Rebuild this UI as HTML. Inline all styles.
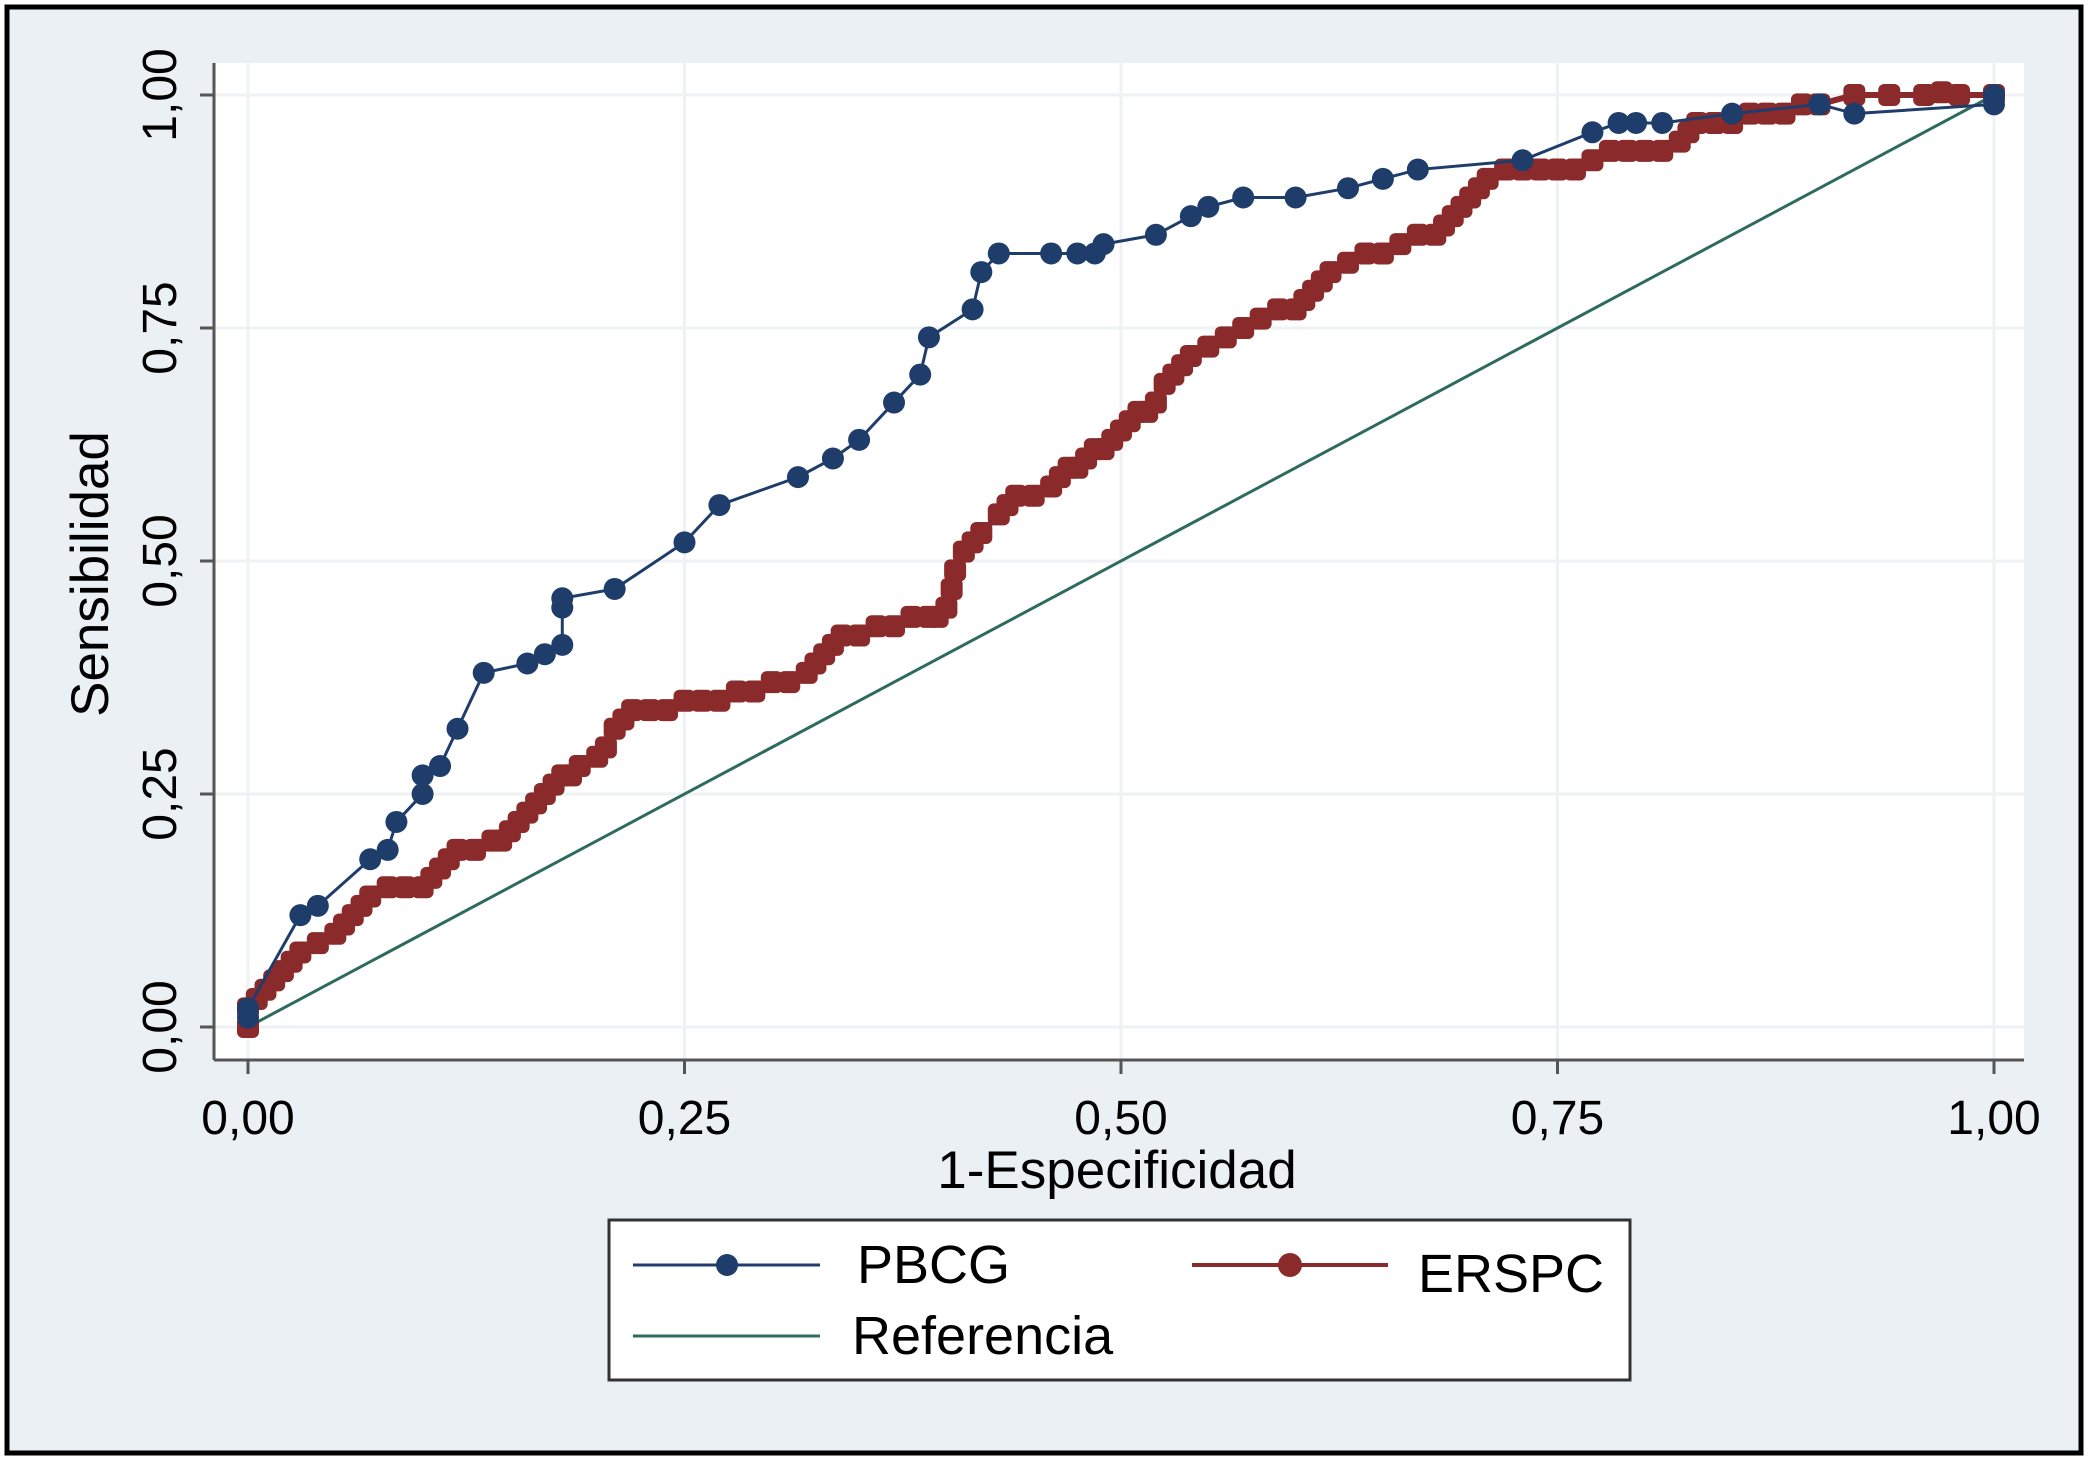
<!DOCTYPE html>
<html><head><meta charset="utf-8"><style>
html,body{margin:0;padding:0;background:#fff}
svg{display:block;font-family:"Liberation Sans",sans-serif}
</style></head><body>
<svg width="2091" height="1460" viewBox="0 0 2091 1460">
<rect x="7" y="7" width="2074" height="1446" fill="#eaf0f3" stroke="#000" stroke-width="5"/>
<rect x="214" y="63" width="1810" height="997" fill="#fff"/>
<g id="grid"></g>
<line x1="214" y1="63" x2="214" y2="1060" stroke="#555" stroke-width="3"/>
<line x1="214" y1="1060" x2="2024" y2="1060" stroke="#555" stroke-width="3"/>
<g id="ticks"></g>
<text x="0" y="0" transform="translate(108,574) rotate(-90)" text-anchor="middle" font-size="53">Sensibilidad</text>
<text x="1117" y="1188" text-anchor="middle" font-size="53">1-Especificidad</text>
<g id="series"></g>
<g>
<rect x="609" y="1220" width="1021" height="160" fill="#fff" stroke="#333" stroke-width="3"/>
<g>
<line x1="633" y1="1265" x2="820" y2="1265" stroke="#1e3d6b" stroke-width="3"/>
<circle cx="727" cy="1265" r="11" fill="#1e3d6b"/>
<text x="857" y="1283" font-size="54">PBCG</text></g>
<g>
<line x1="1192" y1="1265" x2="1388" y2="1265" stroke="#8b2a2a" stroke-width="4"/>
<circle cx="1290" cy="1265" r="12" fill="#8b2a2a"/>
<text x="1418" y="1292" font-size="54">ERSPC</text></g>
<g>
<line x1="633" y1="1336" x2="820" y2="1336" stroke="#2e6b5e" stroke-width="3"/>
<text x="852" y="1354" font-size="54">Referencia</text></g>
</g>
</svg>
<script>
const tickValues=[0,0.25,0.5,0.75,1];
const tickLabels=["0,00","0,25","0,50","0,75","1,00"];
const pbcgX=[0,0,0.03,0.04,0.07,0.08,0.085,0.1,0.1,0.11,0.12,0.135,0.16,0.17,0.18,0.18,0.18,0.21,0.25,0.27,0.315,0.335,0.35,0.37,0.385,0.39,0.415,0.42,0.43,0.46,0.475,0.485,0.49,0.52,0.54,0.55,0.57,0.6,0.63,0.65,0.67,0.73,0.77,0.785,0.795,0.81,0.85,0.9,0.92,1,1];
const pbcgY=[0.01,0.02,0.12,0.13,0.18,0.19,0.22,0.25,0.27,0.28,0.32,0.38,0.39,0.40,0.41,0.45,0.46,0.47,0.52,0.56,0.59,0.61,0.63,0.67,0.70,0.74,0.77,0.81,0.83,0.83,0.83,0.83,0.84,0.85,0.87,0.88,0.89,0.89,0.90,0.91,0.92,0.93,0.96,0.97,0.97,0.97,0.98,0.99,0.98,0.99,1];
const erspcX=[0,0,0.005,0.01,0.015,0.02,0.025,0.03,0.04,0.05,0.055,0.06,0.065,0.07,0.08,0.09,0.1,0.105,0.11,0.115,0.12,0.13,0.14,0.145,0.15,0.155,0.16,0.165,0.17,0.175,0.18,0.185,0.19,0.2,0.205,0.21,0.215,0.22,0.23,0.24,0.25,0.26,0.27,0.28,0.29,0.3,0.31,0.32,0.325,0.33,0.335,0.34,0.35,0.36,0.37,0.38,0.39,0.395,0.4,0.403,0.405,0.41,0.415,0.42,0.43,0.435,0.44,0.45,0.46,0.465,0.47,0.475,0.48,0.485,0.49,0.495,0.5,0.505,0.51,0.515,0.52,0.525,0.53,0.535,0.54,0.55,0.56,0.57,0.58,0.59,0.6,0.605,0.61,0.615,0.62,0.63,0.64,0.65,0.66,0.67,0.68,0.685,0.69,0.695,0.7,0.705,0.71,0.72,0.73,0.74,0.75,0.76,0.77,0.78,0.79,0.8,0.81,0.82,0.825,0.83,0.84,0.85,0.86,0.87,0.88,0.89,0.9,0.92,0.94,0.96,0.97,0.98,1];
const erspcY=[0,0.02,0.03,0.04,0.05,0.06,0.07,0.08,0.09,0.1,0.11,0.12,0.13,0.14,0.15,0.15,0.15,0.16,0.17,0.18,0.19,0.19,0.2,0.2,0.21,0.22,0.23,0.24,0.25,0.26,0.27,0.27,0.28,0.29,0.3,0.32,0.33,0.34,0.34,0.34,0.35,0.35,0.35,0.36,0.36,0.37,0.37,0.38,0.39,0.4,0.41,0.42,0.42,0.43,0.43,0.44,0.44,0.44,0.45,0.47,0.49,0.51,0.52,0.53,0.55,0.56,0.57,0.57,0.58,0.59,0.6,0.6,0.61,0.62,0.62,0.63,0.64,0.65,0.66,0.66,0.67,0.69,0.7,0.71,0.72,0.73,0.74,0.75,0.76,0.77,0.77,0.78,0.79,0.8,0.81,0.82,0.83,0.83,0.84,0.85,0.85,0.86,0.87,0.88,0.89,0.9,0.91,0.92,0.92,0.92,0.92,0.92,0.93,0.94,0.94,0.94,0.94,0.95,0.96,0.97,0.97,0.97,0.98,0.98,0.98,0.99,0.99,1,1,1,1.003,1,1];
const refX=[0,1];const refY=[0,1];
const NS="http://www.w3.org/2000/svg";
const sx=v=>248+v*(1994-248);
const sy=v=>1027-v*(1027-95);
function mk(tag,attrs,parent){const e=document.createElementNS(NS,tag);for(const k in attrs)e.setAttribute(k,attrs[k]);parent.appendChild(e);return e;}
const grid=document.getElementById('grid'),ticks=document.getElementById('ticks'),series=document.getElementById('series');
tickValues.forEach((v,i)=>{
 let g=mk('line',{x1:214,x2:2024,y1:sy(v),y2:sy(v),stroke:'#eef2f4','stroke-width':3},grid);
 
 
 g=mk('line',{x1:sx(v),x2:sx(v),y1:63,y2:1060,stroke:'#eef2f4','stroke-width':3},grid);
 
 
 let t=mk('line',{x1:200,x2:214,y1:sy(v),y2:sy(v),stroke:'#555','stroke-width':3},ticks);
 
 
 t=mk('line',{x1:sx(v),x2:sx(v),y1:1060,y2:1074,stroke:'#555','stroke-width':3},ticks);
 
 
 let l=mk('text',{transform:`translate(176,${sy(v)}) rotate(-90)`,'text-anchor':'middle','font-size':48},ticks);l.textContent=tickLabels[i];
 
 
 l=mk('text',{x:sx(v),y:1134,'text-anchor':'middle','font-size':48},ticks);l.textContent=tickLabels[i];
 
 
});
function line(xs,ys,color,w,name){const p=mk('polyline',{points:xs.map((x,i)=>sx(x)+','+sy(ys[i])).join(' '),fill:'none',stroke:color,'stroke-width':w},series);
 
 }
line(refX,refY,'#2e6b5e',3,'reference-line');
line(erspcX,erspcY,'#8b2a2a',6,'erspc-line');
erspcX.forEach((x,i)=>{const c=mk('rect',{x:sx(x)-11,y:sy(erspcY[i])-11,width:22,height:22,rx:6,fill:'#8b2a2a'},series);
 
 });
line(pbcgX,pbcgY,'#1e3d6b',3,'pbcg-line');
pbcgX.forEach((x,i)=>{const c=mk('circle',{cx:sx(x),cy:sy(pbcgY[i]),r:11,fill:'#1e3d6b'},series);
 
 });
</script>
</body></html>
